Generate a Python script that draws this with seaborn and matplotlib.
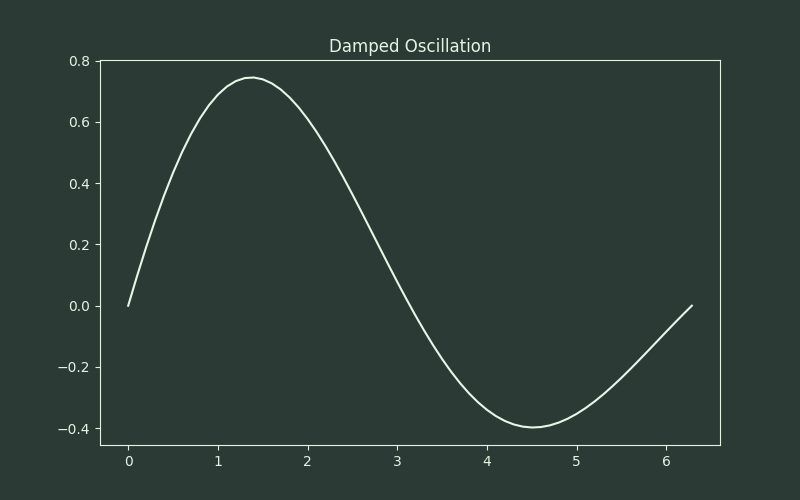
import matplotlib
matplotlib.use("Agg")
import matplotlib.pyplot as plt
import seaborn as sns

# values
x_vals = [0.0, 0.1, 0.2, 0.3, 0.4, 0.5, 0.6, 0.7, 0.8, 0.9, 1.0, 1.1, 1.2,
          1.3, 1.4, 1.5, 1.6, 1.7, 1.8, 1.9, 2.0, 2.1, 2.2, 2.3, 2.4, 2.5,
          2.6, 2.7, 2.8, 2.9, 3.0, 3.1, 3.2, 3.3, 3.4, 3.5, 3.6, 3.7, 3.8,
          3.9, 4.0, 4.1, 4.2, 4.3, 4.4, 4.5, 4.6, 4.7, 4.8, 4.9, 5.0, 5.1,
          5.2, 5.3, 5.4, 5.5, 5.6, 5.7, 5.8, 5.9, 6.0, 6.1, 6.2, 6.283]
y_vals = [0.0, 0.0978, 0.1909, 0.2783, 0.3595, 0.4338, 0.5008, 0.5601,
          0.6113, 0.6543, 0.6889, 0.7152, 0.7331, 0.7430, 0.7448, 0.7389,
          0.7258, 0.7059, 0.6794, 0.6472, 0.6095, 0.5671, 0.5207, 0.4708,
          0.4180, 0.3630, 0.3065, 0.2490, 0.1913, 0.1339, 0.0774, 0.0224,
          -0.0308, -0.0815, -0.1294, -0.1742, -0.2154, -0.2528, -0.2862,
          -0.3153, -0.3400, -0.3604, -0.3763, -0.3877, -0.3947, -0.3975,
          -0.3960, -0.3906, -0.3814, -0.3687, -0.3528, -0.3338, -0.3123,
          -0.2884, -0.2624, -0.2349, -0.2060, -0.1761, -0.1457, -0.1149,
          -0.0842, -0.0538, -0.0241, 0.0]

bg = "#2b3a34"
fg = "#e6f2e6"

plt.rcParams.update({
    "figure.facecolor": bg,
    "axes.facecolor": bg,
    "axes.edgecolor": fg,
    "axes.labelcolor": fg,
    "xtick.color": fg,
    "ytick.color": fg,
    "text.color": fg,
    "font.family": "DejaVu Sans",
})

fig, ax = plt.subplots(figsize=(8, 5), dpi=100)
sns.lineplot(x=x_vals, y=y_vals, ax=ax, color="#e8f5e9", linewidth=1.5)
ax.set_title("Damped Oscillation", color=fg)

fig.savefig("out.png", dpi=100, facecolor=bg)
